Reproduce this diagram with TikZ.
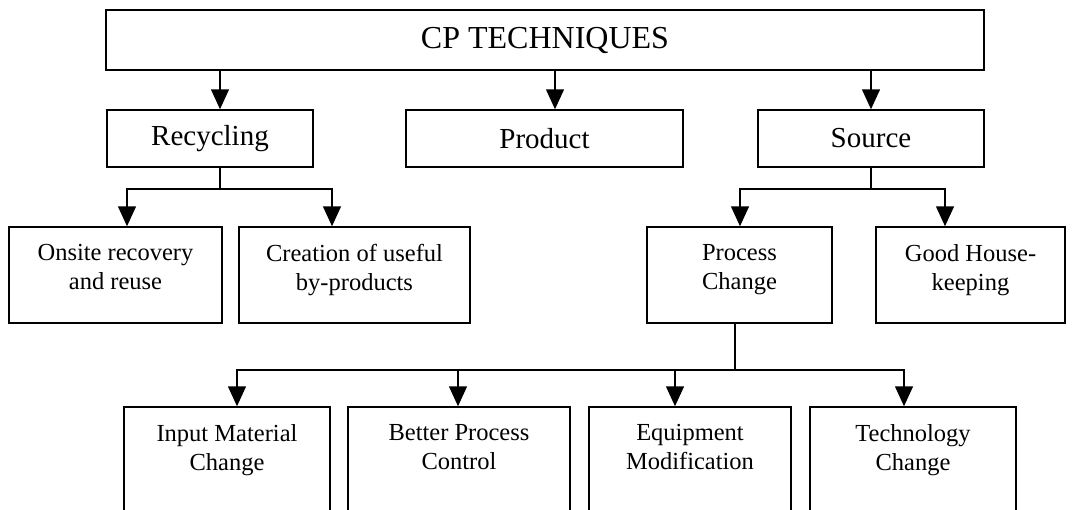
\documentclass[tikz,border=0pt]{standalone}
\usepackage{fontspec}
\setmainfont{Liberation Serif}
\usetikzlibrary{arrows.meta, positioning, calc}

\begin{document}
\begin{tikzpicture}[x=1pt, y=-1pt, every node/.style={align=center},
    box/.style={draw, line width=1.5pt, inner sep=0pt},
    big/.style={font=\fontsize{32}{38}\selectfont},
    mid/.style={font=\fontsize{29}{34}\selectfont},
    small/.style={font=\fontsize{24.5}{29}\selectfont},
    lbl/.style={small, anchor=north, inner sep=0pt, yshift=-18pt},
    lnk/.style={line width=1.5pt},
    arr/.style={line width=1.5pt, -{Triangle[length=20pt, width=18pt]}}]
  \useasboundingbox (0,0) rectangle (1086,509);
  \clip (0,0) rectangle (1086,509);

  % Top level
  \node[box, big, minimum width=878pt, minimum height=60pt] (cp) at (545,40) {CP TECHNIQUES};

  % Second level
  \node[box, mid, minimum width=206pt, minimum height=57pt] (recycling) at (210,138.5) {Recycling};
  \node[box, mid, minimum width=277pt, minimum height=57pt] (product) at (544.5,138.5) {Product};
  \node[box, mid, minimum width=226pt, minimum height=57pt] (source) at (871,138.5) {Source};

  % Third level
  \node[box, minimum width=213pt, minimum height=96pt,
        label={[lbl]north:{Onsite recovery\\and reuse}}] (onsite) at (115.5,275) {};
  \node[box, minimum width=231pt, minimum height=96pt,
        label={[lbl]north:{Creation of useful\\by-products}}] (creation) at (354.5,275) {};
  \node[box, minimum width=185pt, minimum height=96pt,
        label={[lbl]north:{Process\\Change}}] (process) at (739.5,275) {};
  \node[box, minimum width=189pt, minimum height=96pt,
        label={[lbl]north:{Good House-\\keeping}}] (house) at (970.5,275) {};

  % Bottom level (runs off the page)
  \node[box, minimum width=206pt, minimum height=120pt,
        label={[lbl]north:{Input Material\\Change}}] (input) at (227,467) {};
  \node[box, minimum width=222pt, minimum height=120pt,
        label={[lbl]north:{Better Process\\Control}}] (control) at (459,467) {};
  \node[box, minimum width=202pt, minimum height=120pt,
        label={[lbl]north:{Equipment\\Modification}}] (equip) at (690,467) {};
  \node[box, minimum width=206pt, minimum height=120pt,
        label={[lbl]north:{Technology\\Change}}] (tech) at (913,467) {};

  % Arrows from the top box
  \draw[arr] ($(cp.south -| recycling.north)+(10,0)$) -- ($(recycling.north)+(10,0)$);
  \draw[arr] ($(cp.south -| product.north)+(10.5,0)$) -- ($(product.north)+(10.5,0)$);
  \draw[arr] (cp.south -| source.north) -- (source.north);

  % Recycling branches
  \coordinate (rfork) at ($(recycling.south)+(10,21)$);
  \draw[lnk] ($(recycling.south)+(10,0)$) -- (rfork);
  \draw[arr] (rfork) -| ($(onsite.north)+(11.5,0)$);
  \draw[arr] (rfork) -| ($(creation.north)+(-22.5,0)$);

  % Source branches
  \coordinate (sfork) at ($(source.south)+(0,21)$);
  \draw[lnk] (source.south) -- (sfork);
  \draw[arr] (sfork) -| ($(process.north)+(0.5,0)$);
  \draw[arr] (sfork) -| ($(house.north)+(-25.5,0)$);

  % Process change branches
  \coordinate (pfork) at ($(process.south)+(-4.5,46)$);
  \draw[lnk] ($(process.south)+(-4.5,0)$) -- (pfork);
  \draw[arr] (pfork) -| ($(input.north)+(10,0)$);
  \draw[arr] (pfork) -| ($(control.north)+(-1,0)$);
  \draw[arr] (pfork) -| ($(equip.north)+(-15,0)$);
  \draw[arr] (pfork) -| ($(tech.north)+(-9,0)$);
\end{tikzpicture}
\end{document}
